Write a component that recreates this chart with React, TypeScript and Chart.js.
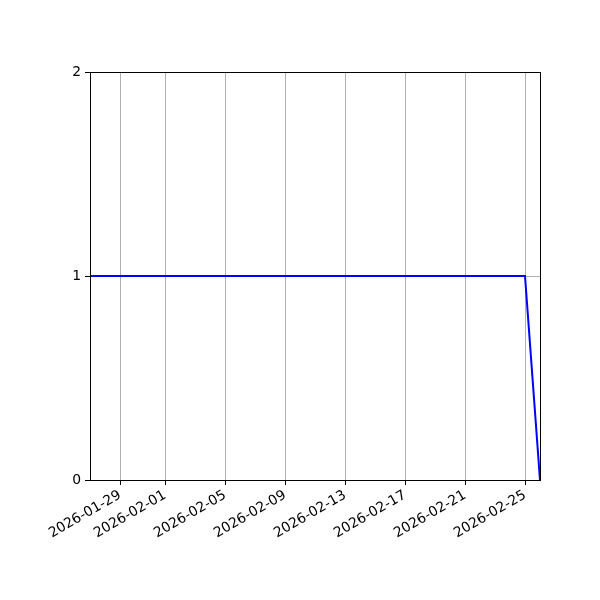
import { useEffect, useRef } from "react";
import { Chart, registerables } from "chart.js";

Chart.register(...registerables);

const dates = [
  "2026-01-27", "2026-01-28", "2026-01-29", "2026-01-30", "2026-01-31",
  "2026-02-01", "2026-02-02", "2026-02-03", "2026-02-04", "2026-02-05",
  "2026-02-06", "2026-02-07", "2026-02-08", "2026-02-09", "2026-02-10",
  "2026-02-11", "2026-02-12", "2026-02-13", "2026-02-14", "2026-02-15",
  "2026-02-16", "2026-02-17", "2026-02-18", "2026-02-19", "2026-02-20",
  "2026-02-21", "2026-02-22", "2026-02-23", "2026-02-24", "2026-02-25",
  "2026-02-26"
];
const values = [
  1, 1, 1, 1, 1, 1, 1, 1, 1, 1,
  1, 1, 1, 1, 1, 1, 1, 1, 1, 1,
  1, 1, 1, 1, 1, 1, 1, 1, 1, 1,
  0
];
const xTickLabels = [
  "2026-01-29", "2026-02-01", "2026-02-05", "2026-02-09",
  "2026-02-13", "2026-02-17", "2026-02-21", "2026-02-25"
];
const yTicks = [0, 1, 2];
const xStart = "2026-01-27";
const xEnd = "2026-02-26";

const toMs = (d: string) => Date.parse(d + "T00:00:00Z");
const fmt = (v: number) => new Date(v).toISOString().slice(0, 10);

const framePlugin = {
  id: "frame",
  afterDatasetsDraw(chart: Chart) {
    const { ctx, chartArea } = chart;
    ctx.save();
    ctx.strokeStyle = "#000";
    ctx.lineWidth = 1;
    ctx.strokeRect(
      Math.round(chartArea.left) + 0.5,
      Math.round(chartArea.top) + 0.5,
      Math.round(chartArea.right - chartArea.left),
      Math.round(chartArea.bottom - chartArea.top)
    );
    ctx.restore();
  }
};

export default function App() {
  const canvasRef = useRef<HTMLCanvasElement | null>(null);

  useEffect(() => {
    document.body.style.margin = "0";
    if (!canvasRef.current) return;
    const font = { family: "DejaVu Sans", size: 13.9 };

    const chart = new Chart(canvasRef.current, {
      type: "line",
      data: {
        datasets: [
          {
            data: dates.map((d, i) => ({ x: toMs(d), y: values[i] })),
            borderColor: "#0000ff",
            borderWidth: 2,
            pointRadius: 0,
            tension: 0,
            fill: false
          }
        ]
      },
      plugins: [framePlugin],
      options: {
        responsive: false,
        animation: false,
        layout: { padding: { top: 72, right: 60, left: 0, bottom: 0 } },
        plugins: { legend: { display: false }, tooltip: { enabled: false } },
        scales: {
          x: {
            type: "linear",
            min: toMs(xStart),
            max: toMs(xEnd),
            afterBuildTicks: (axis: any) => {
              axis.ticks = xTickLabels.map((t) => ({ value: toMs(t) }));
            },
            afterFit: (axis: any) => {
              axis.height = 120;
            },
            ticks: {
              callback: (v: any) => fmt(Number(v)),
              minRotation: 30,
              maxRotation: 30,
              autoSkip: false,
              color: "#000",
              font,
              padding: 2
            },
            grid: { color: "#b0b0b0", lineWidth: 1, tickColor: "#000", tickLength: 5 },
            border: { display: true, color: "#000", width: 1 }
          },
          y: {
            min: 0,
            max: 2,
            afterBuildTicks: (axis: any) => {
              axis.ticks = yTicks.map((v) => ({ value: v }));
            },
            afterFit: (axis: any) => {
              axis.width = 90;
            },
            ticks: { color: "#000", font, padding: 4 },
            grid: { color: "#b0b0b0", lineWidth: 1, tickColor: "#000", tickLength: 5 },
            border: { display: true, color: "#000", width: 1 }
          }
        }
      }
    });

    return () => chart.destroy();
  }, []);

  return (
    <div style={{ width: 600, height: 600, background: "#fff" }}>
      <canvas ref={canvasRef} width={600} height={600} />
    </div>
  );
}
